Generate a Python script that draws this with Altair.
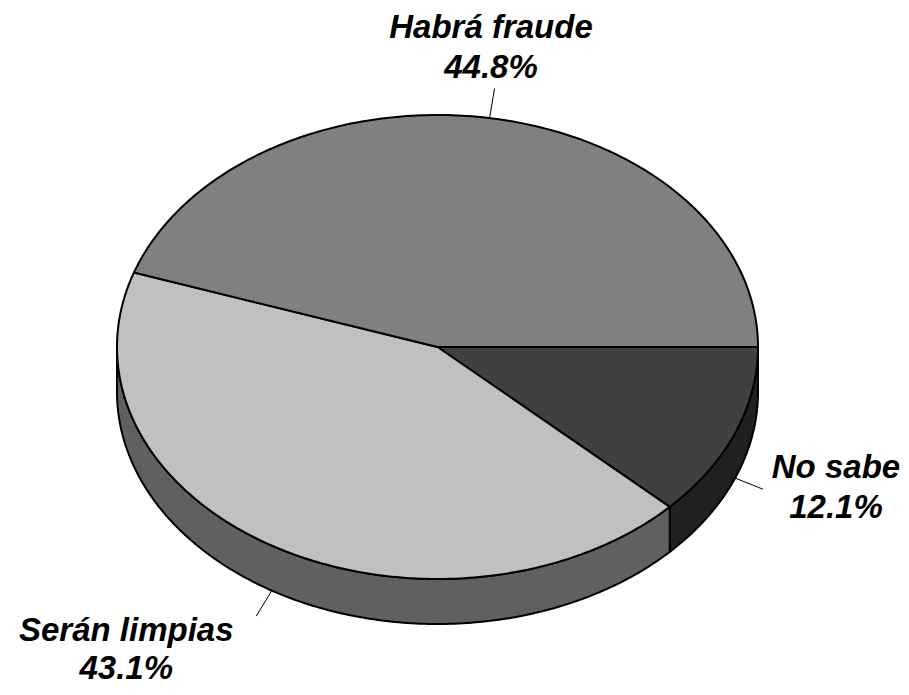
import numpy as np
import pandas as pd
import altair as alt

# ---- data ----
labels = ["No sabe", "Serán limpias", "Habrá fraude"]
values = [12.1, 43.1, 44.8]

# ---- layout / style (page pixels) ----
CX, CY, RX, RY, DEPTH = 437.5, 347.0, 320.5, 232.0, 45.0
N = 180
LEADER = 30.0
top_colors = {"No sabe": "#404040", "Serán limpias": "#c0c0c0", "Habrá fraude": "#808080"}
side_colors = {"No sabe": "#202020", "Serán limpias": "#606060", "Habrá fraude": "#404040"}
# text (center x, first baseline, line gap) relative to the end of each leader line
label_offsets = {"No sabe": (73, -11, 40), "Serán limpias": (-130, 25, 38), "Habrá fraude": (-3.5, -50.5, 40)}

total = float(sum(values))
fr = np.array(values) / total * 2 * np.pi
ends = np.cumsum(fr)
starts = ends - fr

side_rows, top_rows = [], []
for lab, a0, a1 in zip(labels, starts, ends):
    # top face
    ang = np.linspace(a0, a1, N)
    pts = [(CX, CY)] + [(CX + RX * np.cos(a), CY + RY * np.sin(a)) for a in ang] + [(CX, CY)]
    for k, (x, y) in enumerate(pts):
        top_rows.append({"poly": "top " + lab, "part": "top|" + lab, "k": k, "x": x, "y": y})
    # visible side (front half, 0..pi)
    s0, s1 = max(a0, 0.0), min(a1, np.pi)
    if s1 > s0:
        ang = np.linspace(s0, s1, N)
        upper = [(CX + RX * np.cos(a), CY + RY * np.sin(a)) for a in ang]
        lower = [(x, y + DEPTH) for x, y in upper[::-1]]
        pts = upper + lower + [upper[0]]
        for k, (x, y) in enumerate(pts):
            side_rows.append({"poly": "side " + lab, "part": "side|" + lab, "k": k, "x": x, "y": y})

side_df = pd.DataFrame(side_rows)
top_df = pd.DataFrame(top_rows)

lead_rows, text_rows = [], []
for lab, v, a0, a1 in zip(labels, values, starts, ends):
    m = (a0 + a1) / 2
    sx = CX + RX * np.cos(m)
    sy = CY + RY * np.sin(m) + (DEPTH if np.sin(m) > 0 else 0)
    ex = sx + LEADER * np.cos(m)
    ey = sy + LEADER * np.sin(m)
    lead_rows.append({"x": sx, "y": sy, "x2": ex, "y2": ey})
    dx, dy, gap = label_offsets[lab]
    text_rows.append({"x": ex + dx, "y": ey + dy, "t": lab})
    text_rows.append({"x": ex + dx, "y": ey + dy + gap, "t": f"{v:.1f}%"})
lead_df = pd.DataFrame(lead_rows)
text_df = pd.DataFrame(text_rows)

dom = [f"side|{l}" for l in labels] + [f"top|{l}" for l in labels]
rng = [side_colors[l] for l in labels] + [top_colors[l] for l in labels]

xs = alt.Scale(domain=[8, 901], nice=False, zero=False)
ys = alt.Scale(domain=[8, 687], nice=False, zero=False, reverse=True)
X = alt.X("x:Q", scale=xs, axis=None)
Y = alt.Y("y:Q", scale=ys, axis=None)
color = alt.Color("part:N", scale=alt.Scale(domain=dom, range=rng), legend=None)

poly_mark = dict(filled=True, stroke="black", strokeWidth=2, strokeJoin="round", opacity=1, interpolate="linear")

sides = alt.Chart(side_df).mark_line(**poly_mark).encode(
    x=X, y=Y, color=color, detail="poly:N", order="k:Q")
tops = alt.Chart(top_df).mark_line(**poly_mark).encode(
    x=X, y=Y, color=color, detail="poly:N", order="k:Q")
leads = alt.Chart(lead_df).mark_rule(color="black", strokeWidth=1).encode(
    x=X, y=Y, x2="x2:Q", y2="y2:Q")
texts = alt.Chart(text_df).mark_text(
    font="Liberation Sans", fontSize=33, fontWeight="bold", fontStyle="italic",
    align="center", baseline="alphabetic", color="black").encode(x=X, y=Y, text="t:N")

chart = alt.layer(sides, tops, leads, texts).properties(
    width=893, height=679, autosize="none", padding=0
).configure_view(strokeWidth=0)

chart.save("out.html", embed_options={"renderer": "svg", "actions": False})
